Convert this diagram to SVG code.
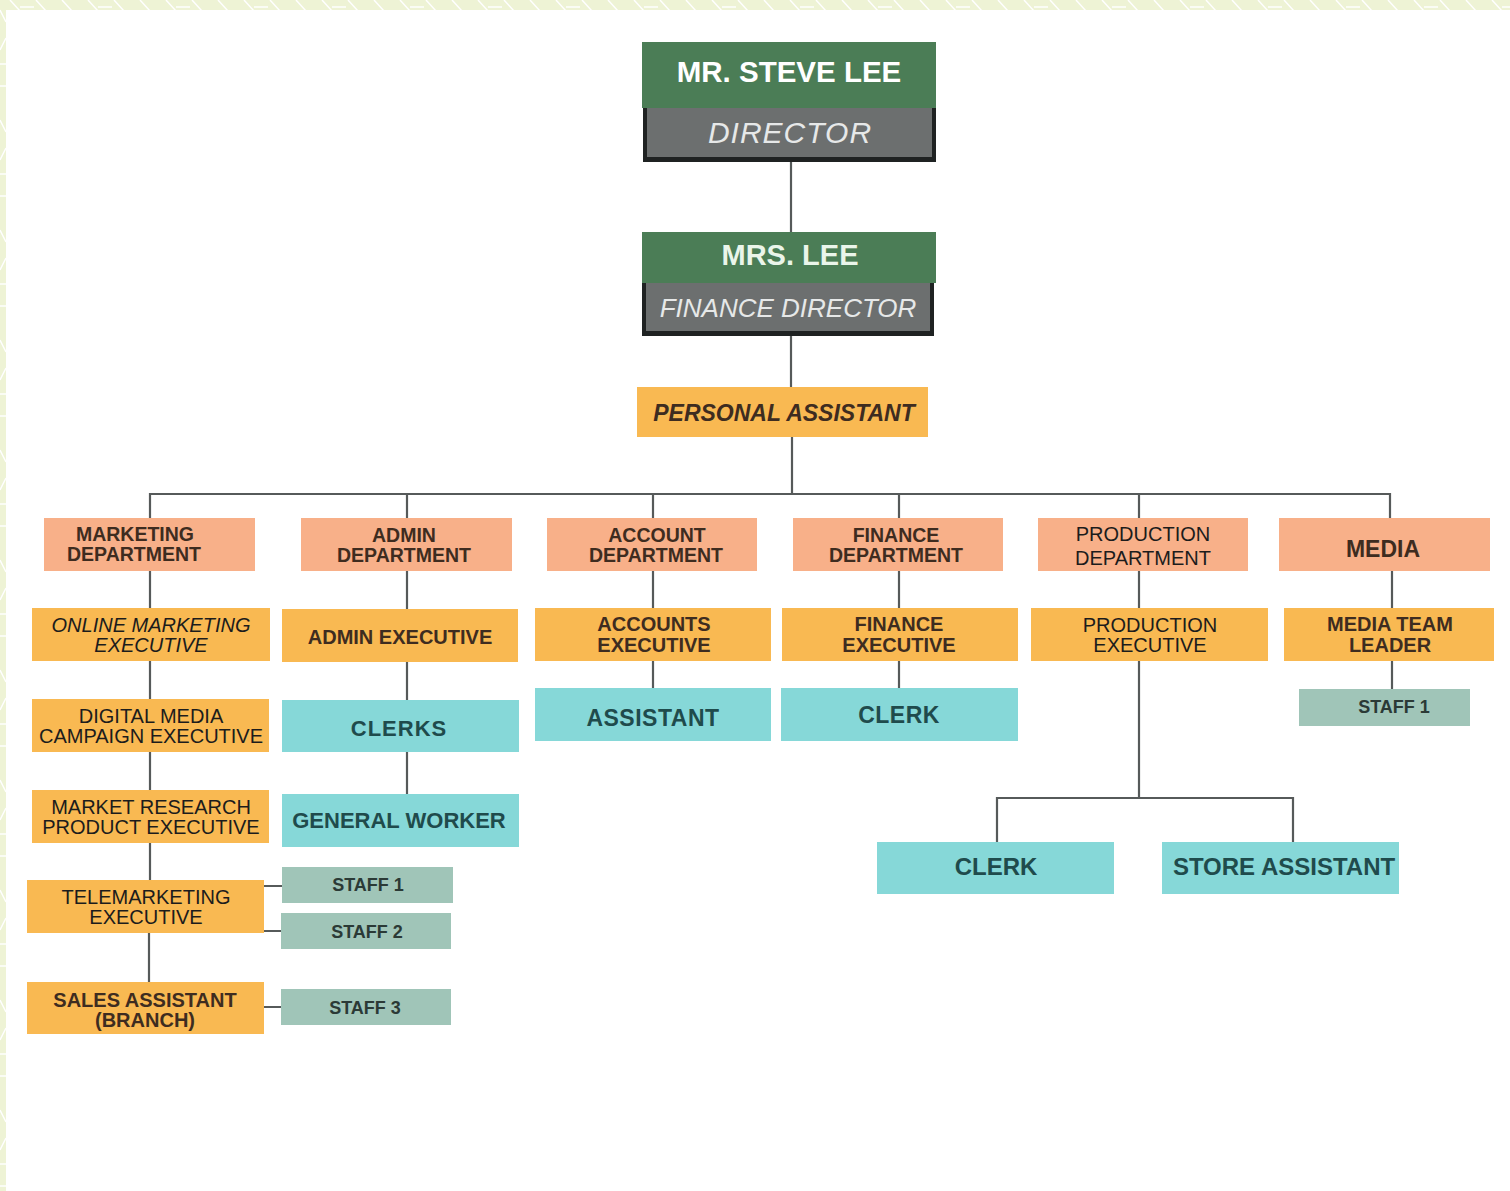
<svg xmlns="http://www.w3.org/2000/svg" width="1510" height="1191" viewBox="0 0 1510 1191">
<defs>
<pattern id="hatch" x="0" y="0" width="78" height="40" patternUnits="userSpaceOnUse">
<rect width="78" height="40" fill="#eef3d5"/>
<path d="M10 0 L20 11 M36 0 L46 11 M62 0 L72 11 M20 7 L34 7" stroke="#ffffff" stroke-width="1.5" fill="none"/>
</pattern>
<pattern id="hatchv" x="0" y="0" width="10" height="110" patternUnits="userSpaceOnUse">
<rect width="10" height="110" fill="#eef3d5"/>
<path d="M0 10 L6 22 M0 50 L6 38 M0 64 L10 64 M0 86 L10 86" stroke="#ffffff" stroke-width="1.5" fill="none"/>
</pattern>
<style>
.sal{fill:#f8b089}
.org{fill:#f9b952}
.cyn{fill:#86d8d8}
.sag{fill:#a0c5b8}
.grn{fill:#4b7d56}
.gry{fill:#6c6f6f}
.dk{fill:#1f2222}
.ln{stroke:#565a5a;stroke-width:2.2;fill:none}
.g{font-family:"Liberation Sans","Arial",sans-serif;font-weight:bold;fill:#3e2c20;text-anchor:middle}
.p{font-family:"Liberation Sans","Arial",sans-serif;font-weight:normal;fill:#1c1c1c;text-anchor:middle}
.c{font-family:"Liberation Sans","Arial",sans-serif;font-weight:bold;fill:#1f4b4c;text-anchor:middle}
.s{font-family:"Liberation Sans","Arial",sans-serif;font-weight:bold;fill:#2b3a36;text-anchor:middle;font-size:18px}
</style>
</defs>
<rect x="0" y="0" width="1510" height="1191" fill="#eef3d5"/>
<rect x="0" y="0" width="1510" height="10" fill="url(#hatch)"/>
<rect x="0" y="0" width="6" height="1191" fill="url(#hatchv)"/>
<rect x="6" y="10" width="1504" height="1181" fill="#ffffff"/>

<g id="connectors">
<path class="ln" d="M791 160 V232"/>
<path class="ln" d="M791 335 V387"/>
<path class="ln" d="M792 437 V494"/>
<path class="ln" d="M150 518 V494 H1390 V518"/>
<path class="ln" d="M407 494 V518"/>
<path class="ln" d="M653 494 V518"/>
<path class="ln" d="M899 494 V518"/>
<path class="ln" d="M1139 494 V518"/>
<path class="ln" d="M150 571 V880 M149 933 V982"/>
<path class="ln" d="M407 571 V794"/>
<path class="ln" d="M653 571 V688"/>
<path class="ln" d="M899 571 V688"/>
<path class="ln" d="M1139 571 V799"/>
<path class="ln" d="M997 842 V798 H1293 V842"/>
<path class="ln" d="M1392 571 V689"/>
<path class="ln" d="M264 886 H282 M264 931 H281 M264 1007 H281"/>
</g>

<g id="director">
<rect class="dk" x="643" y="106" width="293" height="56"/>
<rect class="gry" x="647" y="106" width="285" height="51"/>
<rect class="grn" x="642" y="42" width="294" height="66"/>
<text x="789" y="82" font-family="Liberation Sans, Arial, sans-serif" font-weight="bold" font-size="29.5" fill="#ffffff" text-anchor="middle">MR. STEVE LEE</text>
<text x="790" y="143" font-family="Liberation Sans, Arial, sans-serif" font-style="italic" font-size="30" fill="#e6e8e8" text-anchor="middle" letter-spacing="1">DIRECTOR</text>
</g>

<g id="finance-director">
<rect class="dk" x="642" y="281" width="292" height="55"/>
<rect class="gry" x="646" y="281" width="284" height="50"/>
<rect class="grn" x="642" y="232" width="294" height="51"/>
<text x="790" y="265" font-family="Liberation Sans, Arial, sans-serif" font-weight="bold" font-size="29" fill="#eaf5ea" text-anchor="middle">MRS. LEE</text>
<text x="788" y="317" font-family="Liberation Sans, Arial, sans-serif" font-style="italic" font-size="26" fill="#e6e8e8" text-anchor="middle">FINANCE DIRECTOR</text>
</g>

<g id="personal-assistant">
<rect class="org" x="637" y="387" width="291" height="50"/>
<text class="g" x="784" y="421" font-size="23" font-style="italic">PERSONAL ASSISTANT</text>
</g>

<g id="marketing-dept">
<rect class="sal" x="44" y="518" width="211" height="53"/>
<text class="g" x="135" y="541" font-size="19.5">MARKETING</text>
<text class="g" x="134" y="561" font-size="19.5">DEPARTMENT</text>
</g>
<g id="admin-dept">
<rect class="sal" x="301" y="518" width="211" height="53"/>
<text class="g" x="404" y="542" font-size="19.5">ADMIN</text>
<text class="g" x="404" y="562" font-size="19.5">DEPARTMENT</text>
</g>
<g id="account-dept">
<rect class="sal" x="547" y="518" width="210" height="53"/>
<text class="g" x="657" y="542" font-size="19.5">ACCOUNT</text>
<text class="g" x="656" y="562" font-size="19.5">DEPARTMENT</text>
</g>
<g id="finance-dept">
<rect class="sal" x="793" y="518" width="210" height="53"/>
<text class="g" x="896" y="542" font-size="19.5">FINANCE</text>
<text class="g" x="896" y="562" font-size="19.5">DEPARTMENT</text>
</g>
<g id="production-dept">
<rect class="sal" x="1038" y="518" width="210" height="53"/>
<text class="p" x="1143" y="541" font-size="20">PRODUCTION</text>
<text class="p" x="1143" y="565" font-size="20">DEPARTMENT</text>
</g>
<g id="media-dept">
<rect class="sal" x="1279" y="518" width="211" height="53"/>
<text class="g" x="1383" y="557" font-size="23">MEDIA</text>
</g>

<g id="online-marketing-exec">
<rect class="org" x="32" y="608" width="238" height="53"/>
<text class="p" x="151" y="632" font-size="20" font-style="italic">ONLINE MARKETING</text>
<text class="p" x="151" y="652" font-size="20" font-style="italic">EXECUTIVE</text>
</g>
<g id="admin-exec">
<rect class="org" x="282" y="609" width="236" height="53"/>
<text class="g" x="400" y="644" font-size="20">ADMIN EXECUTIVE</text>
</g>
<g id="accounts-exec">
<rect class="org" x="535" y="608" width="236" height="53"/>
<text class="g" x="654" y="631" font-size="20">ACCOUNTS</text>
<text class="g" x="654" y="652" font-size="20">EXECUTIVE</text>
</g>
<g id="finance-exec">
<rect class="org" x="782" y="608" width="236" height="53"/>
<text class="g" x="899" y="631" font-size="20">FINANCE</text>
<text class="g" x="899" y="652" font-size="20">EXECUTIVE</text>
</g>
<g id="production-exec">
<rect class="org" x="1031" y="608" width="237" height="53"/>
<text class="p" x="1150" y="632" font-size="20">PRODUCTION</text>
<text class="p" x="1150" y="652" font-size="20">EXECUTIVE</text>
</g>
<g id="media-team-leader">
<rect class="org" x="1284" y="608" width="210" height="53"/>
<text class="g" x="1390" y="631" font-size="20">MEDIA TEAM</text>
<text class="g" x="1390" y="652" font-size="20">LEADER</text>
</g>

<g id="digital-media-exec">
<rect class="org" x="32" y="699" width="237" height="53"/>
<text class="p" x="151" y="723" font-size="20">DIGITAL MEDIA</text>
<text class="p" x="151" y="743" font-size="20">CAMPAIGN EXECUTIVE</text>
</g>
<g id="clerks">
<rect class="cyn" x="282" y="700" width="237" height="52"/>
<text class="c" x="399" y="736" font-size="22" letter-spacing="1">CLERKS</text>
</g>
<g id="assistant">
<rect class="cyn" x="535" y="688" width="236" height="53"/>
<text class="c" x="653" y="726" font-size="23" letter-spacing="0.5">ASSISTANT</text>
</g>
<g id="finance-clerk">
<rect class="cyn" x="781" y="688" width="237" height="53"/>
<text class="c" x="899" y="723" font-size="23" letter-spacing="0.5">CLERK</text>
</g>
<g id="media-staff-1">
<rect class="sag" x="1299" y="689" width="171" height="37"/>
<text class="s" x="1394" y="713">STAFF 1</text>
</g>

<g id="market-research-exec">
<rect class="org" x="32" y="790" width="237" height="53"/>
<text class="p" x="151" y="814" font-size="20">MARKET RESEARCH</text>
<text class="p" x="151" y="834" font-size="20">PRODUCT EXECUTIVE</text>
</g>
<g id="general-worker">
<rect class="cyn" x="282" y="794" width="237" height="53"/>
<text class="c" x="399" y="828" font-size="22">GENERAL WORKER</text>
</g>

<g id="telemarketing-exec">
<rect class="org" x="27" y="880" width="237" height="53"/>
<text class="p" x="146" y="904" font-size="20">TELEMARKETING</text>
<text class="p" x="146" y="924" font-size="20">EXECUTIVE</text>
</g>
<g id="admin-staff-1">
<rect class="sag" x="282" y="867" width="171" height="36"/>
<text class="s" x="368" y="891">STAFF 1</text>
</g>
<g id="admin-staff-2">
<rect class="sag" x="281" y="913" width="170" height="36"/>
<text class="s" x="367" y="938">STAFF 2</text>
</g>

<g id="sales-assistant">
<rect class="org" x="27" y="982" width="237" height="52"/>
<text class="g" x="145" y="1007" font-size="20">SALES ASSISTANT</text>
<text class="g" x="145" y="1027" font-size="20">(BRANCH)</text>
</g>
<g id="admin-staff-3">
<rect class="sag" x="281" y="989" width="170" height="36"/>
<text class="s" x="365" y="1014">STAFF 3</text>
</g>

<g id="production-clerk">
<rect class="cyn" x="877" y="842" width="237" height="52"/>
<text class="c" x="996" y="875" font-size="24">CLERK</text>
</g>
<g id="store-assistant">
<rect class="cyn" x="1162" y="842" width="237" height="52"/>
<text class="c" x="1284" y="875" font-size="24">STORE ASSISTANT</text>
</g>
</svg>
